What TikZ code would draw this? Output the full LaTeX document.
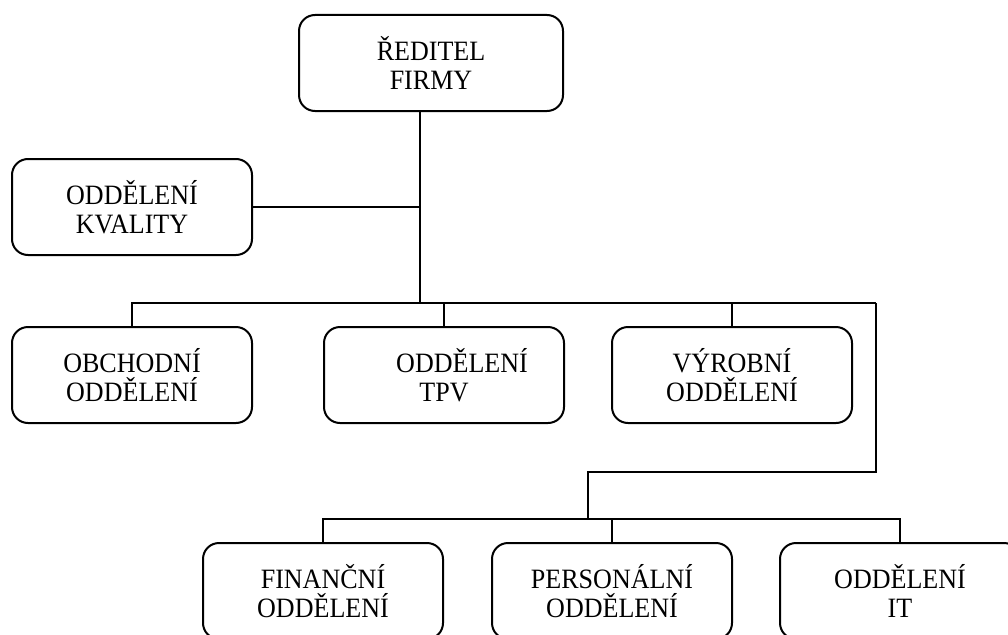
\documentclass[tikz,border=0pt]{standalone}
\usepackage{fontspec}
\setmainfont[FakeStretch=0.93]{Liberation Serif}
\begin{document}
\begin{tikzpicture}[x=1pt,y=-1pt,
  line width=2pt,
  unit/.style={draw, rounded corners=16pt, minimum width=240pt, minimum height=96pt,
    inner sep=0pt, align=center, font=\fontsize{28}{29}\selectfont},
  conn/.style={line width=2pt}]
\clip (0,0) rectangle (1008,634);
\fill[white] (0,0) rectangle (1008,634);
% nodes
\node[unit, minimum width=264pt] (dir) at (431,63) {ŘEDITEL\\FIRMY};
\node[unit] (kval) at (132,207) {ODDĚLENÍ\\KVALITY};
\node[unit] (obch) at (132,375) {OBCHODNÍ\\ODDĚLENÍ};
\node[unit] (tpv) at (444,375) {\hspace*{36pt}ODDĚLENÍ\\TPV};
\node[unit] (vyr) at (732,375) {VÝROBNÍ\\ODDĚLENÍ};
\node[unit] (fin) at (323,591) {FINANČNÍ\\ODDĚLENÍ};
\node[unit] (pers) at (612,591) {PERSONÁLNÍ\\ODDĚLENÍ};
\node[unit] (it) at (900,591) {ODDĚLENÍ\\IT};
% junction coordinates
\coordinate (trunk) at (420,303);
\coordinate (busR) at (876,303);
\coordinate (turn) at (588,472);
\coordinate (bus2) at (588,519);
% connectors
\draw[conn] (dir.south -| trunk) -- (trunk);
\draw[conn] (kval.east) -- (kval.east -| trunk);
\draw[conn] (obch.north) -- (obch.north |- trunk) -- (busR);
\draw[conn] (tpv.north) -- (tpv.north |- trunk);
\draw[conn] (vyr.north) -- (vyr.north |- trunk);
\draw[conn] (busR) -- (busR |- turn) -- (turn) -- (bus2);
\draw[conn] (fin.north) -- (fin.north |- bus2) -- (it.north |- bus2) -- (it.north);
\draw[conn] (pers.north) -- (pers.north |- bus2);
\end{tikzpicture}
\end{document}
